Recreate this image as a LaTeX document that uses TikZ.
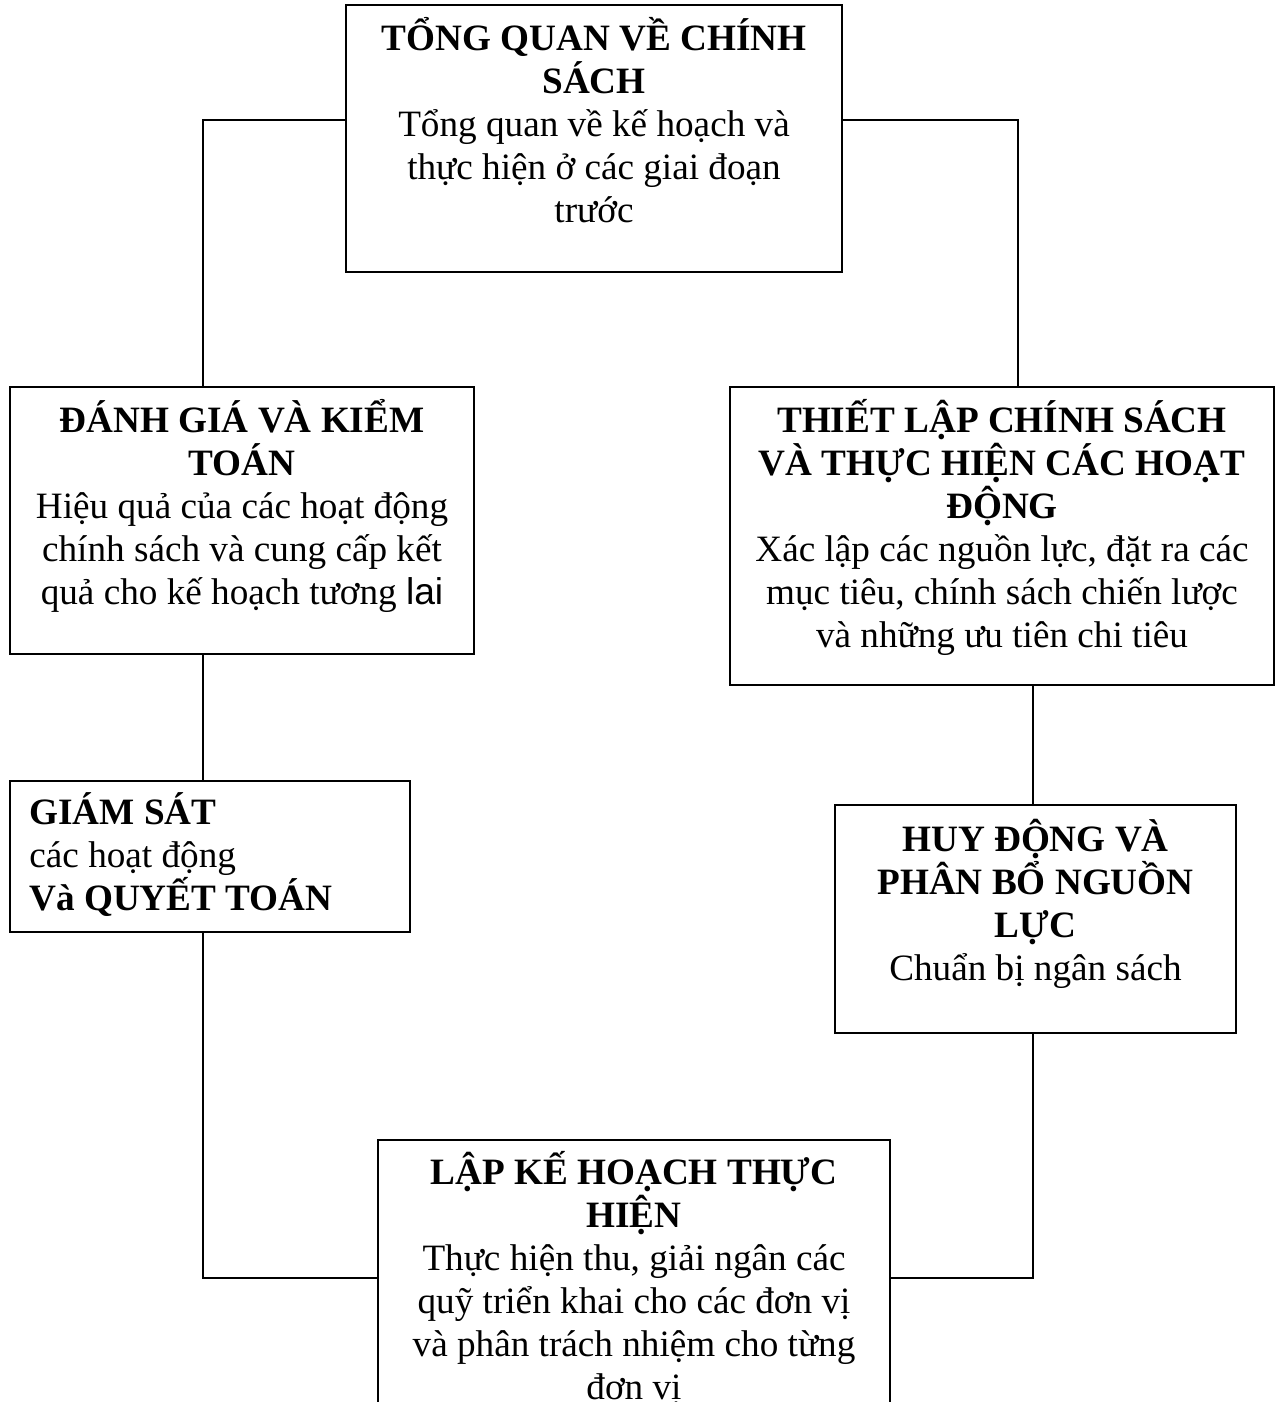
\documentclass[tikz,border=0pt]{standalone}
\usepackage{fontspec}
\setmainfont{Liberation Serif}
\newfontfamily\arialf{Liberation Sans}
\begin{document}
\begin{tikzpicture}[x=0.5pt,y=-0.5pt,
  box/.style={draw=black, line width=1pt, rectangle, inner sep=0pt},
  txt/.style={inner sep=0pt, align=center, font={\fontsize{18.6}{21.5}\selectfont\lineskiplimit=-30pt}},
  txtl/.style={inner sep=0pt, align=left, font={\fontsize{18.6}{21.5}\selectfont\lineskiplimit=-30pt}},
  conn/.style={draw=black, line width=1pt}]
\clip (0,0) rectangle (1281,1402);
\fill[white] (0,0) rectangle (1281,1402);

% boxes
\node[box, minimum width=248pt, minimum height=133.5pt] (top) at (594,138.5) {};
\node[box, minimum width=232pt, minimum height=133.5pt] (dg) at (242,520.5) {};
\node[box, minimum width=272pt, minimum height=149pt] (tl) at (1002,536) {};
\node[box, minimum width=200pt, minimum height=75.5pt] (gs) at (210,856.5) {};
\node[box, minimum width=200.5pt, minimum height=114pt] (hd) at (1035.5,919) {};
\node[box, minimum width=256pt, minimum height=170pt] (lk) at (634,1310) {};

% texts
\node[txt, anchor=north] (topT) at ([yshift=-5pt]top.north)
  {\rule{0pt}{18pt}\textbf{TỔNG QUAN VỀ CHÍNH}\\ \textbf{SÁCH}\\ Tổng quan về kế hoạch và\\ thực hiện ở các giai đoạn\\ trước};
\node[txt, anchor=north] (dgT) at ([yshift=-5pt]dg.north)
  {\rule{0pt}{18pt}\textbf{ĐÁNH GIÁ VÀ KIỂM}\\ \textbf{TOÁN}\\ Hiệu quả của các hoạt động\\ chính sách và cung cấp kết\\ quả cho kế hoạch tương {\arialf lai}};
\node[txt, anchor=north] (tlT) at ([yshift=-5pt]tl.north)
  {\rule{0pt}{18pt}\textbf{THIẾT LẬP CHÍNH SÁCH}\\ \textbf{VÀ THỰC HIỆN CÁC HOẠT}\\ \textbf{ĐỘNG}\\ Xác lập các nguồn lực, đặt ra các\\ mục tiêu, chính sách chiến lược\\ và những ưu tiên chi tiêu};
\node[txtl, anchor=north west] (gsT) at ([xshift=10pt,yshift=-4pt]gs.north west)
  {\rule{0pt}{18pt}\textbf{GIÁM SÁT}\\ các hoạt động\\ \textbf{Và QUYẾT TOÁN}};
\node[txt, anchor=north] (hdT) at ([yshift=-5.5pt]hd.north)
  {\rule{0pt}{18pt}\textbf{HUY ĐỘNG VÀ}\\ \textbf{PHÂN BỔ NGUỒN}\\ \textbf{LỰC}\\ Chuẩn bị ngân sách};
\node[txt, anchor=north] (lkT) at ([yshift=-4.5pt]lk.north)
  {\rule{0pt}{18pt}\textbf{LẬP KẾ HOẠCH THỰC}\\ \textbf{HIỆN}\\ Thực hiện thu, giải ngân các\\ quỹ triển khai cho các đơn vị\\ và phân trách nhiệm cho từng\\ đơn vị};

% connectors
\draw[conn] ([yshift=9.25pt]top.west) -| ([xshift=-19.5pt]dg.north);
\draw[conn] ([yshift=9.25pt]top.east) -| ([xshift=8pt]tl.north);
\draw[conn] ([xshift=-19.5pt]dg.south) -- ([xshift=-3.5pt]gs.north);
\draw[conn] ([xshift=-3.5pt]gs.south) |- ([yshift=16pt]lk.west);
\draw[conn] ([xshift=15.5pt]tl.south) -- ([xshift=-1.25pt]hd.north);
\draw[conn] ([xshift=-1.25pt]hd.south) |- ([yshift=16pt]lk.east);
\end{tikzpicture}
\end{document}
